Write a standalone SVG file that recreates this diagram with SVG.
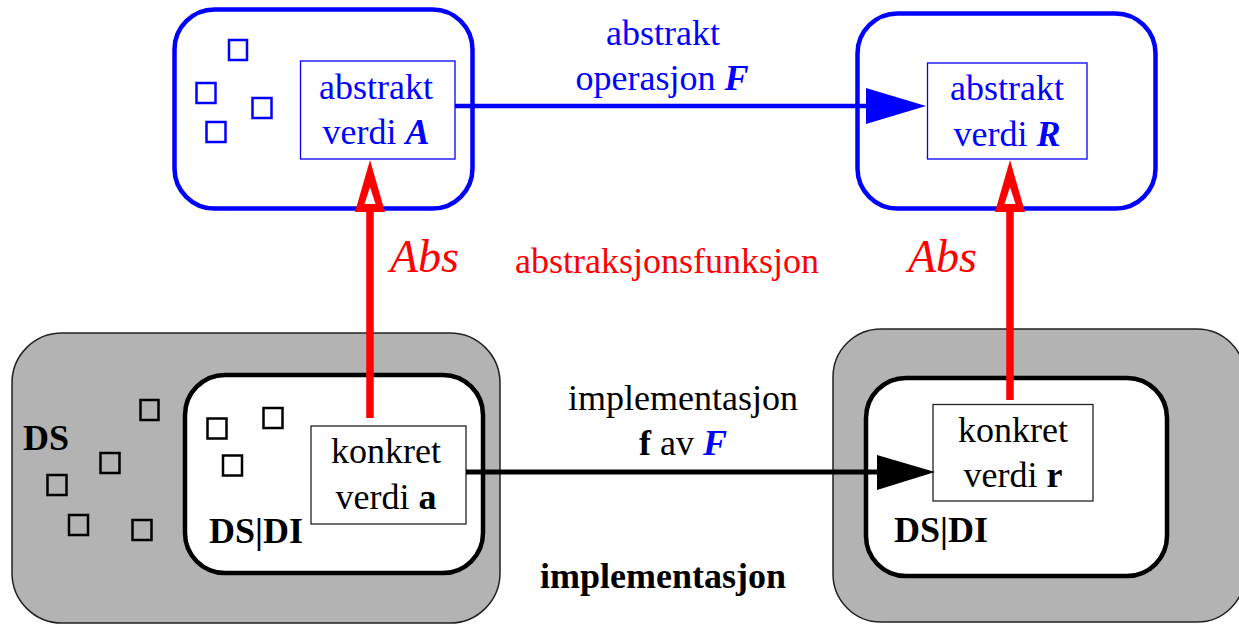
<svg xmlns="http://www.w3.org/2000/svg" width="1239" height="625" viewBox="0 0 1239 625">
<rect width="1239" height="625" fill="#fff"/>

<g id="abstract-left">
<rect x="174.5" y="9.5" width="298" height="199" rx="40" fill="#fff" stroke="#0000ff" stroke-width="4.5"/>
<g fill="none" stroke="#0000ff" stroke-width="2.5">
<rect x="229" y="40" width="18" height="20"/>
<rect x="196.5" y="83" width="19" height="20"/>
<rect x="252.5" y="98" width="19" height="20"/>
<rect x="206.5" y="122" width="19" height="20"/>
</g>
<rect x="300.5" y="61" width="154.5" height="98" fill="#fff" stroke="#0000ff" stroke-width="1.3"/>
<text x="376" y="99" font-family="Liberation Serif" font-size="36" fill="#0000ff" text-anchor="middle">abstrakt</text>
<text x="376" y="144" font-family="Liberation Serif" font-size="36" fill="#0000ff" text-anchor="middle">verdi <tspan font-weight="bold" font-style="italic">A</tspan></text>
</g>

<g id="abstract-right">
<rect x="857.5" y="13.5" width="298" height="195" rx="40" fill="#fff" stroke="#0000ff" stroke-width="4.5"/>
<rect x="927.5" y="63" width="159.5" height="96" fill="#fff" stroke="#0000ff" stroke-width="1.3"/>
<text x="1007" y="100" font-family="Liberation Serif" font-size="36" fill="#0000ff" text-anchor="middle">abstrakt</text>
<text x="1007" y="146" font-family="Liberation Serif" font-size="36" fill="#0000ff" text-anchor="middle">verdi <tspan font-weight="bold" font-style="italic">R</tspan></text>
</g>

<g id="impl-left">
<rect x="12" y="333" width="488" height="290" rx="50" fill="#b3b3b3" stroke="#222" stroke-width="1.5"/>
<text x="23" y="450" font-family="Liberation Serif" font-size="36" font-weight="bold">DS</text>
<g fill="none" stroke="#000" stroke-width="2.5">
<rect x="140.5" y="400" width="18" height="20"/>
<rect x="100.5" y="453" width="19" height="20"/>
<rect x="47.5" y="475" width="19" height="20"/>
<rect x="69" y="515" width="19" height="20"/>
<rect x="132.5" y="520" width="19" height="20"/>
</g>
<rect x="185" y="375" width="298" height="198" rx="40" fill="#fff" stroke="#000" stroke-width="4.5"/>
<g fill="none" stroke="#000" stroke-width="2.5">
<rect x="207.5" y="418.5" width="19" height="20"/>
<rect x="263.5" y="408" width="19" height="20"/>
<rect x="223" y="455.5" width="19" height="20"/>
</g>
<rect x="311" y="426" width="155" height="98" fill="#fff" stroke="#222" stroke-width="1.3"/>
<text x="386" y="463" font-family="Liberation Serif" font-size="36" text-anchor="middle">konkret</text>
<text x="386" y="509" font-family="Liberation Serif" font-size="36" text-anchor="middle">verdi <tspan font-weight="bold">a</tspan></text>
<text x="209" y="543" font-family="Liberation Serif" font-size="36" font-weight="bold">DS|DI</text>
</g>

<g id="impl-right">
<rect x="833" y="329" width="412" height="293" rx="48" fill="#b3b3b3" stroke="#222" stroke-width="1.5"/>
<rect x="866" y="378" width="301" height="198" rx="40" fill="#fff" stroke="#000" stroke-width="4.5"/>
<rect x="933" y="404.5" width="160" height="96.5" fill="#fff" stroke="#222" stroke-width="1.3"/>
<text x="1013" y="442" font-family="Liberation Serif" font-size="36" text-anchor="middle">konkret</text>
<text x="1013" y="487" font-family="Liberation Serif" font-size="36" text-anchor="middle">verdi <tspan font-weight="bold">r</tspan></text>
<text x="894" y="542" font-family="Liberation Serif" font-size="36" font-weight="bold">DS|DI</text>
</g>

<g id="connectors">
<line x1="455" y1="106" x2="868" y2="106" stroke="#0000ff" stroke-width="4.5"/>
<polygon points="866,88 926,106 866,124" fill="#0000ff"/>
<line x1="466" y1="472" x2="879" y2="472" stroke="#000" stroke-width="5"/>
<polygon points="877,455 935,472 877,490" fill="#000"/>
<line x1="370" y1="418" x2="370" y2="208" stroke="#ff0000" stroke-width="7.5"/>
<polygon points="370,160 355,212 385,212" fill="#ff0000"/>
<polygon points="370,187 364.5,204 375.5,204" fill="#fff"/>
<line x1="1010" y1="400" x2="1010" y2="208" stroke="#ff0000" stroke-width="7.5"/>
<polygon points="1010,160 995,212 1025,212" fill="#ff0000"/>
<polygon points="1010,187 1004.5,204 1015.5,204" fill="#fff"/>
</g>

<g id="labels">
<text x="663" y="45" font-family="Liberation Serif" font-size="36" fill="#0000ff" text-anchor="middle">abstrakt</text>
<text x="662" y="90" font-family="Liberation Serif" font-size="36" fill="#0000ff" text-anchor="middle">operasjon <tspan font-weight="bold" font-style="italic">F</tspan></text>
<text x="390" y="272" font-family="Liberation Serif" font-size="46" fill="#ff0000" font-style="italic">Abs</text>
<text x="908" y="272" font-family="Liberation Serif" font-size="46" fill="#ff0000" font-style="italic">Abs</text>
<text x="667" y="273" font-family="Liberation Serif" font-size="36" fill="#ff0000" text-anchor="middle">abstraksjonsfunksjon</text>
<text x="683" y="410" font-family="Liberation Serif" font-size="36" text-anchor="middle">implementasjon</text>
<text x="683" y="455" font-family="Liberation Serif" font-size="36" text-anchor="middle"><tspan font-weight="bold">f</tspan> av <tspan font-weight="bold" font-style="italic" fill="#0000ff">F</tspan></text>
<text x="663" y="588" font-family="Liberation Serif" font-size="36" font-weight="bold" text-anchor="middle">implementasjon</text>
</g>
</svg>
